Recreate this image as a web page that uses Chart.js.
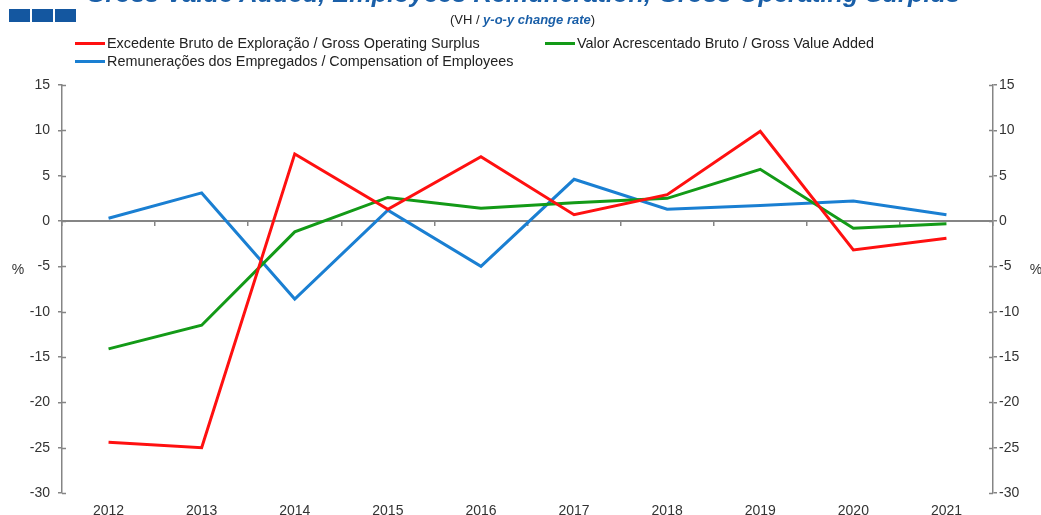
<!DOCTYPE html>
<html>
<head>
<meta charset="utf-8">
<script src="https://cdn.jsdelivr.net/npm/chart.js@4/dist/chart.umd.min.js"></script>
<style>
  html, body { margin: 0; padding: 0; background: #fff; }
  body { font-family: "Liberation Sans", Arial, sans-serif; }
  #wrap { position: relative; width: 1041px; height: 515px; overflow: hidden; }
  #c { position: absolute; left: 0; top: 0; }
  .sq { position: absolute; top: 9px; width: 21px; height: 13px; background: #1457a0; }
  #title {
    position: absolute; left: 0; width: 1046px; top: -19px; line-height: 25px;
    text-align: center; font-size: 25.4px; font-weight: bold; font-style: italic; color: #1a5fa8;
    white-space: nowrap;
  }
  #subtitle {
    position: absolute; left: 0; width: 1045px; top: 12px; line-height: 16px;
    text-align: center; font-size: 13px; color: #222; white-space: nowrap;
  }
  #subtitle b { font-style: italic; color: #1a5fa8; }
  #legend {
    position: absolute; left: 75px; top: 34px;
    display: grid; grid-template-columns: 470px auto; row-gap: 0;
    font-size: 14.4px; color: #222; line-height: 18px;
  }
  .li { display: flex; align-items: center; white-space: nowrap; }
  .li i { display: inline-block; width: 30px; height: 3px; margin-right: 2px; }
</style>
</head>
<body>
<div id="wrap">
  <canvas id="c" width="1041" height="515"></canvas>
  <div class="sq" style="left:9px"></div>
  <div class="sq" style="left:32px"></div>
  <div class="sq" style="left:55px"></div>
  <div id="title">Gross Value Added, Employees Remuneration, Gross Operating Surplus</div>
  <div id="subtitle">(VH / <b>y-o-y change rate</b>)</div>
  <div id="legend"></div>
</div>
<script>
const years = ['2012', '2013', '2014', '2015', '2016', '2017', '2018', '2019', '2020', '2021'];

const grossOperatingSurplus = [-24.4, -25.0, 7.4, 1.3, 7.1, 0.7, 2.9, 9.9, -3.2, -1.9];
const grossValueAdded       = [-14.1, -11.5, -1.2, 2.6, 1.4, 2.0, 2.5, 5.7, -0.8, -0.3];
const compensation          = [0.3, 3.1, -8.6, 1.2, -5.0, 4.6, 1.3, 1.7, 2.2, 0.7];

const yTicks = [15, 10, 5, 0, -5, -10, -15, -20, -25, -30];

const axisGray = '#858585';
const textGray = '#333';

// little ticks on the inner side of both value axes
const innerTicks = {
    id: 'innerTicks',
    afterDatasetsDraw(chart) {
        const { ctx } = chart;
        ctx.save();
        ctx.strokeStyle = axisGray;
        ctx.lineWidth = 1.5;
        for (const id of ['y', 'y2']) {
            const s = chart.scales[id];
            const x = id === 'y' ? s.right : s.left;
            const dir = id === 'y' ? 1 : -1;
            for (const t of yTicks) {
                const py = Math.round(s.getPixelForValue(t)) + 0.5;
                ctx.beginPath();
                ctx.moveTo(x, py);
                ctx.lineTo(x + dir * 4, py);
                ctx.stroke();
            }
        }
        ctx.restore();
    },
    afterDraw(chart) {
        // "%" unit labels beside both axes
        const { ctx } = chart;
        const py = chart.scales.y.getPixelForValue(-5) + 4;
        ctx.save();
        ctx.fillStyle = textGray;
        ctx.font = '14px "Liberation Sans", Arial, sans-serif';
        ctx.textAlign = 'center';
        ctx.textBaseline = 'middle';
        ctx.fillText('%', 18, py);
        ctx.fillText('%', 1036, py);
        ctx.restore();
    },
};

const tickFont = { family: '"Liberation Sans", Arial, sans-serif', size: 14 };

const chart = new Chart(document.getElementById('c'), {
    type: 'line',
    data: {
        labels: years,
        datasets: [
            { label: 'Excedente Bruto de Exploração / Gross Operating Surplus', data: grossOperatingSurplus, borderColor: '#ff1010' },
            { label: 'Valor Acrescentado Bruto / Gross Value Added',            data: grossValueAdded,       borderColor: '#139a17' },
            { label: 'Remunerações dos Empregados / Compensation of Employees', data: compensation,          borderColor: '#1a7fd2' },
        ].map(d => ({ ...d, backgroundColor: d.borderColor, borderWidth: 3, pointRadius: 0, tension: 0, xAxisID: 'x', yAxisID: 'y' })),
    },
    options: {
        responsive: false,
        animation: false,
        layout: { padding: { top: 85, left: 0, right: 0, bottom: 0 } },
        plugins: { legend: { display: false }, tooltip: { enabled: false } },
        scales: {
            x: {
                type: 'category',
                position: 'bottom',
                offset: true,
                grid: { display: false },
                border: { display: false },
                ticks: { color: textGray, font: tickFont, padding: 2, maxRotation: 0 },
                afterFit: s => { s.height = 22; },
            },
            x2: {
                type: 'category',
                position: { y: 0 },
                offset: true,
                grid: { offset: true, drawOnChartArea: false, drawTicks: true, tickLength: 4, color: axisGray, lineWidth: 1.5 },
                border: { color: axisGray, width: 2 },
                ticks: { display: false },
            },
            y: {
                position: 'left',
                min: -30, max: 15,
                ticks: { stepSize: 5, color: textGray, font: tickFont, padding: 8 },
                grid: { drawOnChartArea: false, tickLength: 4, color: axisGray, lineWidth: 1.5 },
                border: { color: axisGray, width: 1.5 },
                afterFit: s => { s.width = 62; },
            },
            y2: {
                position: 'right',
                min: -30, max: 15,
                ticks: { stepSize: 5, color: textGray, font: tickFont, padding: 2 },
                grid: { drawOnChartArea: false, tickLength: 4, color: axisGray, lineWidth: 1.5 },
                border: { color: axisGray, width: 1.5 },
                afterFit: s => { s.width = 48; },
            },
        },
    },
    plugins: [innerTicks],
});

// HTML legend, two columns like the original
const legend = document.getElementById('legend');
for (const ds of chart.data.datasets) {
    const item = document.createElement('div');
    item.className = 'li';
    const sw = document.createElement('i');
    sw.style.background = ds.borderColor;
    const span = document.createElement('span');
    span.textContent = ds.label;
    item.appendChild(sw);
    item.appendChild(span);
    legend.appendChild(item);
}
</script>
</body>
</html>
